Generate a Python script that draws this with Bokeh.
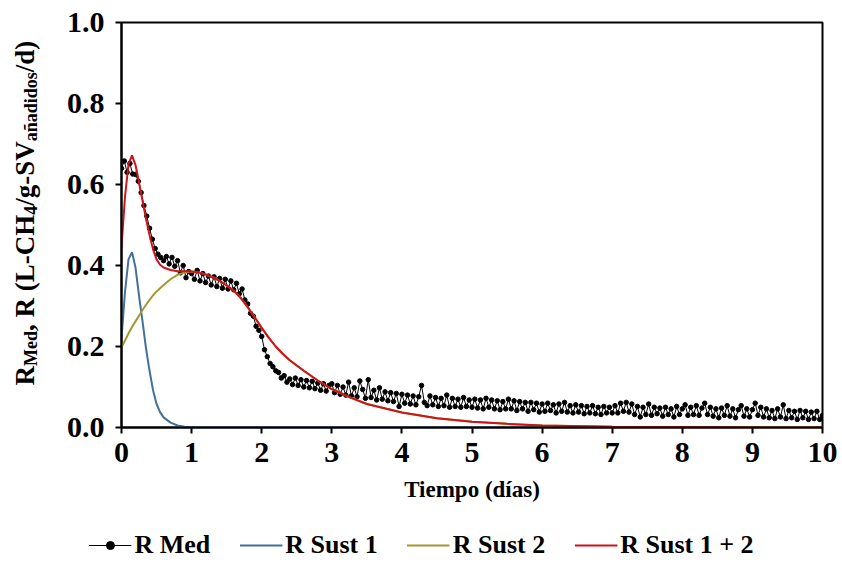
import math
from bokeh.plotting import figure
from bokeh.layouts import row, column
from bokeh.models import Range1d, Legend, LegendItem, FixedTicker, NumeralTickFormatter, ColumnDataSource
from bokeh.core.properties import value
from bokeh.embed import file_html
from bokeh.resources import INLINE

# ---------------- data ----------------
# measured methane production rate (R Med), sampled every 0.04 d
r_med_day0 = [0.640, 0.658, 0.630, 0.652, 0.626, 0.625, 0.608, 0.580, 0.548, 0.522, 0.492, 0.465, 0.442,
              0.428, 0.420, 0.412, 0.422, 0.404, 0.420, 0.398, 0.412, 0.382, 0.400, 0.370, 0.385]
r_med_day1 = [0.380, 0.366, 0.388, 0.362, 0.380, 0.358, 0.374, 0.352, 0.372, 0.348, 0.368, 0.344, 0.366,
              0.342, 0.362, 0.340, 0.356, 0.330, 0.342, 0.315, 0.305, 0.282, 0.275, 0.250, 0.240]
r_med_day2 = [0.225, 0.192, 0.175, 0.158, 0.150, 0.140, 0.136, 0.122, 0.128, 0.112, 0.120, 0.106, 0.122,
              0.104, 0.118, 0.100, 0.116, 0.098, 0.114, 0.096, 0.110, 0.092, 0.108, 0.090, 0.104]
r_med_day3 = [0.108, 0.086, 0.104, 0.082, 0.100, 0.080, 0.112, 0.078, 0.098, 0.076, 0.115, 0.094, 0.072,
              0.118, 0.074, 0.092, 0.068, 0.098, 0.070, 0.088, 0.066, 0.086, 0.064, 0.084, 0.052]
r_med_day4 = [0.082, 0.060, 0.080, 0.058, 0.078, 0.056, 0.076, 0.104, 0.062, 0.054, 0.078, 0.056, 0.074,
              0.052, 0.072, 0.054, 0.080, 0.050, 0.072, 0.052, 0.070, 0.050, 0.074, 0.052, 0.068]
r_med_day5 = [0.050, 0.070, 0.048, 0.068, 0.046, 0.072, 0.050, 0.068, 0.046, 0.066, 0.044, 0.064, 0.046,
              0.070, 0.046, 0.066, 0.042, 0.064, 0.046, 0.062, 0.040, 0.062, 0.044, 0.060, 0.038]
r_med_day6 = [0.058, 0.040, 0.060, 0.042, 0.056, 0.036, 0.058, 0.040, 0.062, 0.038, 0.054, 0.036, 0.056,
              0.038, 0.054, 0.034, 0.052, 0.036, 0.054, 0.034, 0.050, 0.032, 0.052, 0.036, 0.050]
r_med_day7 = [0.036, 0.054, 0.036, 0.060, 0.040, 0.062, 0.038, 0.058, 0.032, 0.052, 0.026, 0.050, 0.032,
              0.058, 0.030, 0.050, 0.034, 0.048, 0.028, 0.050, 0.032, 0.046, 0.026, 0.052, 0.032]
r_med_day8 = [0.046, 0.056, 0.030, 0.050, 0.032, 0.054, 0.030, 0.048, 0.060, 0.032, 0.050, 0.028, 0.046,
              0.024, 0.048, 0.030, 0.054, 0.028, 0.046, 0.024, 0.044, 0.054, 0.028, 0.046, 0.026]
r_med_day9 = [0.044, 0.060, 0.030, 0.050, 0.026, 0.046, 0.024, 0.042, 0.022, 0.046, 0.026, 0.056, 0.022,
              0.042, 0.024, 0.040, 0.020, 0.042, 0.024, 0.040, 0.020, 0.038, 0.022, 0.040, 0.020]
r_med_day10 = [0.030]
r_med = (r_med_day0 + r_med_day1 + r_med_day2 + r_med_day3 + r_med_day4 + r_med_day5 +
         r_med_day6 + r_med_day7 + r_med_day8 + r_med_day9 + r_med_day10)
t_med = [round(0.04 * i, 2) for i in range(len(r_med))]

# fitted curves
t_fit = [0.0, 0.05, 0.1, 0.15, 0.2, 0.25, 0.3, 0.35, 0.4, 0.45, 0.5, 0.55, 0.6, 0.7, 0.8, 0.9, 1.0,
         1.1, 1.2, 1.3, 1.4, 1.5, 1.6, 1.7, 1.8, 1.9, 2.0, 2.1, 2.2, 2.3, 2.4, 2.6, 2.8, 3.0, 3.25, 3.5,
         4.0, 4.5, 5.0, 5.5, 6.0, 7.0, 8.0, 9.0, 10.0]
r_sust1 = [0.220, 0.335, 0.415, 0.433, 0.395, 0.325, 0.262, 0.195, 0.140, 0.092, 0.058, 0.038, 0.025, 0.012,
           0.005, 0.002, 0.001, 0.0, 0.0, 0.0, 0.0, 0.0, 0.0, 0.0, 0.0, 0.0, 0.0, 0.0, 0.0, 0.0, 0.0, 0.0,
           0.0, 0.0, 0.0, 0.0, 0.0, 0.0, 0.0, 0.0, 0.0, 0.0, 0.0, 0.0, 0.0]
r_sust2 = [0.198, 0.215, 0.232, 0.248, 0.262, 0.276, 0.290, 0.303, 0.315, 0.326, 0.336, 0.344, 0.352, 0.366,
           0.377, 0.383, 0.385, 0.383, 0.378, 0.371, 0.362, 0.351, 0.338, 0.320, 0.297, 0.272, 0.246, 0.222,
           0.200, 0.182, 0.166, 0.140, 0.116, 0.095, 0.075, 0.058, 0.037, 0.023, 0.014, 0.009, 0.005, 0.002,
           0.001, 0.0, 0.0]
r_sust12 = [0.445, 0.570, 0.650, 0.672, 0.648, 0.605, 0.560, 0.515, 0.475, 0.440, 0.415, 0.402, 0.395, 0.389,
            0.386, 0.386, 0.385, 0.383, 0.378, 0.371, 0.362, 0.351, 0.338, 0.320, 0.297, 0.272, 0.246, 0.222,
            0.200, 0.182, 0.166, 0.140, 0.116, 0.095, 0.075, 0.058, 0.037, 0.023, 0.014, 0.009, 0.005, 0.002,
            0.001, 0.0, 0.0]

x_ticks = [0, 1, 2, 3, 4, 5, 6, 7, 8, 9, 10]
y_ticks = [0.0, 0.2, 0.4, 0.6, 0.8, 1.0]
series_names = ["R Med", "R Sust 1", "R Sust 2", "R Sust 1 + 2"]

# y-axis title pieces (text, is_subscript)
ylabel_parts = [("R", False), ("Med", True), (", R (L-CH", False), ("4", True), ("/g-SV", False),
                ("añadidos", True), ("/d)", False)]

# ---------------- styling ----------------
FONT = "Liberation Serif"
C_MED = "#000000"
C_S1 = "#41719C"
C_S2 = "#A6982F"
C_S12 = "#D0121B"
W_TOTAL, H_TOTAL = 842, 564
LAB_W = 62
LEG_H = 39
MAIN_H = H_TOTAL - LEG_H
FRAME_TOP, FRAME_BOTTOM = 22, 427

p = figure(width=W_TOTAL - LAB_W, height=MAIN_H, output_backend="svg", toolbar_location=None,
           x_range=Range1d(0, 10), y_range=Range1d(0, 1),
           min_border_left=121 - LAB_W, min_border_right=20, min_border_top=FRAME_TOP,
           min_border_bottom=MAIN_H - FRAME_BOTTOM)
p.xgrid.visible = False
p.ygrid.visible = False
p.outline_line_color = "black"
p.outline_line_width = 2

for ax in (p.xaxis[0], p.yaxis[0]):
    ax.axis_line_width = 2
    ax.major_tick_line_width = 2
    ax.major_tick_out = 6
    ax.major_tick_in = 0
    ax.minor_tick_out = 0
    ax.minor_tick_in = 0
    ax.major_label_text_font = FONT
    ax.major_label_text_font_style = "bold"
    ax.major_label_text_font_size = "30px"
    ax.major_label_text_color = "black"

p.xaxis.ticker = FixedTicker(ticks=x_ticks)
p.yaxis.ticker = FixedTicker(ticks=y_ticks)
p.yaxis.formatter = NumeralTickFormatter(format="0.0")
p.xaxis.major_label_standoff = 9
p.yaxis.major_label_standoff = 11
p.xaxis.axis_label = "Tiempo (días)"
p.xaxis.axis_label_text_font = FONT
p.xaxis.axis_label_text_font_style = "bold"
p.xaxis.axis_label_text_font_size = "23px"
p.xaxis.axis_label_text_color = "black"
p.xaxis.axis_label_standoff = 12

src_med = ColumnDataSource(dict(t=t_med, r=r_med))
src_fit = ColumnDataSource(dict(t=t_fit, s1=r_sust1, s2=r_sust2, s12=r_sust12))

p.line("t", "r", source=src_med, line_color=C_MED, line_width=1)
p.scatter("t", "r", source=src_med, size=4.5, fill_color=C_MED, line_color=C_MED)
p.line("t", "s1", source=src_fit, line_color=C_S1, line_width=2)
p.line("t", "s2", source=src_fit, line_color=C_S2, line_width=2)
p.line("t", "s12", source=src_fit, line_color=C_S12, line_width=2)

# ---------------- y-axis title strip (same frame rows as the main plot) ----------------
lab = figure(width=LAB_W, height=MAIN_H, output_backend="svg", toolbar_location=None,
             x_range=Range1d(0, LAB_W), y_range=p.y_range,
             min_border_left=0, min_border_right=0, min_border_top=FRAME_TOP,
             min_border_bottom=MAIN_H - FRAME_BOTTOM,
             x_axis_location=None, y_axis_location=None, outline_line_color=None)
lab.xgrid.visible = False
lab.ygrid.visible = False
ADV = {"R": 722, "M": 944, "e": 444, "d": 556, ",": 250, " ": 250, "(": 333, "L": 667, "-": 333,
       "C": 722, "H": 778, "4": 500, "/": 278, "g": 500, "S": 556, "V": 722, "a": 500, "ñ": 556,
       "i": 278, "o": 500, "s": 389, ")": 333}
F_MAIN, F_SUB = 27, 18
PX_Y = (FRAME_BOTTOM - FRAME_TOP) / 1.0
base_x, sub_x = 24, 30
pos = (FRAME_BOTTOM - 385) / PX_Y
for txt, sub in ylabel_parts:
    size = F_SUB if sub else F_MAIN
    lab.text(x=[sub_x if sub else base_x], y=[pos], text=[txt], angle=math.pi / 2,
             text_font=value(FONT), text_font_style="bold", text_font_size=value(f"{size}px"),
             text_align="left", text_baseline="alphabetic", text_color="black")
    pos += sum(ADV.get(c, 500) for c in txt) / 1000.0 * size / PX_Y

# ---------------- legend strip (key glyphs only; their single points lie outside the view) ----------------
leg = figure(width=W_TOTAL, height=LEG_H, output_backend="svg", toolbar_location=None,
             x_range=Range1d(0, 1), y_range=Range1d(0, 1), min_border=0,
             x_axis_location=None, y_axis_location=None, outline_line_color=None)
leg.xgrid.visible = False
leg.ygrid.visible = False
offview = ColumnDataSource(dict(x=[5], y=[5]))
k_l = leg.line("x", "y", source=offview, line_color=C_MED, line_width=1)
k_m = leg.scatter("x", "y", source=offview, size=5, fill_color=C_MED, line_color=C_MED)
k_1 = leg.line("x", "y", source=offview, line_color=C_S1, line_width=2)
k_2 = leg.line("x", "y", source=offview, line_color=C_S2, line_width=2)
k_12 = leg.line("x", "y", source=offview, line_color=C_S12, line_width=2)
legend = Legend(items=[
    LegendItem(label=series_names[0], renderers=[k_l, k_m]),
    LegendItem(label=series_names[1], renderers=[k_1]),
    LegendItem(label=series_names[2], renderers=[k_2]),
    LegendItem(label=series_names[3], renderers=[k_12]),
], orientation="horizontal", location="center")
legend.label_text_font = FONT
legend.label_text_font_style = "bold"
legend.label_text_font_size = "26px"
legend.label_text_color = "black"
legend.glyph_width = 43
legend.glyph_height = 20
legend.label_standoff = 3
legend.spacing = 29
legend.padding = 0
legend.margin = 0
legend.border_line_color = None
legend.background_fill_alpha = 0
leg.add_layout(legend, "center")

layout = column(row(lab, p), leg)
open("out.html", "w").write(file_html(layout, INLINE))
